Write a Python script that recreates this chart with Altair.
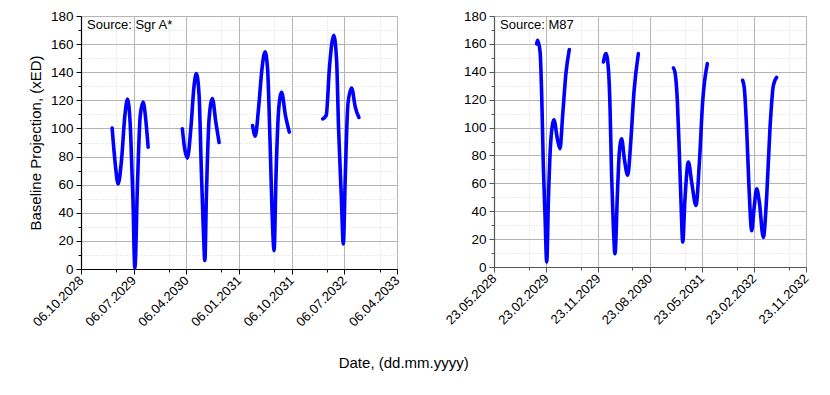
import altair as alt
import pandas as pd

FONT = "Liberation Sans"

# ---------------- Sgr A* (left panel) ----------------
sgr_seg1_dates = ["2029-03-17", "2029-04-03", "2029-04-17", "2029-05-05", "2029-05-22", "2029-06-05",
                  "2029-06-21", "2029-07-03", "2029-07-13", "2029-07-27", "2029-08-10", "2029-08-25",
                  "2029-09-09", "2029-09-20"]
sgr_seg1_vals = [100.2, 73.6, 60.5, 78, 109, 121, 97, 50, 0.5, 62, 109, 118.7, 104.5, 86.7]

sgr_seg2_dates = ["2030-03-17", "2030-03-29", "2030-04-12", "2030-04-30", "2030-05-17", "2030-05-29",
                  "2030-06-12", "2030-06-24", "2030-07-04", "2030-07-12", "2030-07-20", "2030-08-03",
                  "2030-08-20", "2030-09-07", "2030-09-24"]
sgr_seg2_vals = [99.7, 85.5, 78.9, 99.7, 130.6, 139, 123.5, 68.9, 28.5, 6, 52.3, 106.8, 121.3, 104.5, 90]

sgr_seg3_dates = ["2031-03-17", "2031-03-31", "2031-04-17", "2031-05-05", "2031-05-21", "2031-06-03",
                  "2031-06-16", "2031-06-26", "2031-07-07", "2031-07-17", "2031-07-31", "2031-08-15",
                  "2031-09-04", "2031-09-24"]
sgr_seg3_vals = [102.1, 94.5, 114, 142.5, 154.5, 142.5, 90.2, 42.7, 13.1, 66.5, 114, 125.7, 109.3, 97.4]

sgr_seg4_dates = ["2032-03-16", "2032-04-03", "2032-04-20", "2032-05-12", "2032-05-27", "2032-06-06",
                  "2032-06-20", "2032-07-01", "2032-07-11", "2032-07-25", "2032-08-13", "2032-09-01",
                  "2032-09-20"]
sgr_seg4_vals = [106.8, 109.3, 143.7, 166.2, 148.4, 100.9, 53.4, 17.8, 65.3, 117.5, 128.8, 115.2, 107.8]

# ---------------- M87 (right panel) ----------------
m87_seg1_dates = ["2029-01-03", "2029-01-08", "2029-01-21", "2029-01-30", "2029-02-07", "2029-02-16",
                  "2029-02-25", "2029-03-06", "2029-03-18", "2029-04-04", "2029-04-22", "2029-05-06",
                  "2029-05-20", "2029-06-07", "2029-06-24"]
m87_seg1_vals = [160, 162.6, 154.2, 120.7, 72.9, 37.1, 3.6, 49, 89.6, 105.5, 92, 84.8, 108.8, 139.8, 156]

m87_seg2_dates = ["2029-12-21", "2030-01-03", "2030-01-16", "2030-01-25", "2030-02-02", "2030-02-11",
                  "2030-02-20", "2030-03-05", "2030-03-15", "2030-03-27", "2030-04-10", "2030-04-28",
                  "2030-05-14", "2030-05-31", "2030-06-23"]
m87_seg2_vals = [147, 153, 142.2, 113.5, 65.8, 29.9, 9.5, 53.8, 82.5, 92, 77.7, 65.8, 89.6, 125.5, 153]

m87_seg3_dates = ["2030-12-25", "2031-01-02", "2031-01-15", "2031-01-25", "2031-02-03", "2031-02-12",
                  "2031-02-24", "2031-03-14", "2031-03-31", "2031-04-23", "2031-05-11", "2031-05-28",
                  "2031-06-22"]
m87_seg3_vals = [142.7, 139.8, 118.3, 82.5, 46.6, 17.9, 49, 75.3, 61, 44.2, 75.3, 118.3, 145.8]

m87_seg4_dates = ["2031-12-25", "2032-01-03", "2032-01-15", "2032-01-27", "2032-02-11", "2032-02-23",
                  "2032-03-08", "2032-03-22", "2032-04-12", "2032-04-30", "2032-05-17", "2032-06-04",
                  "2032-06-21"]
m87_seg4_vals = [133.9, 127.9, 99.2, 58.6, 26, 41.8, 56.1, 46.6, 21.2, 51.4, 99.2, 130.3, 136]

# ---------------- axis ticks ----------------
sgr_major_ticks = ["2028-10-06", "2029-07-06", "2030-04-06", "2031-01-06", "2031-10-06", "2032-07-06", "2033-04-06"]
sgr_minor_ticks = ["2029-04-06", "2030-01-06", "2030-10-06", "2031-07-06", "2032-04-06", "2033-01-06"]
m87_major_ticks = ["2028-05-23", "2029-02-23", "2029-11-23", "2030-08-23", "2031-05-23", "2032-02-23", "2032-11-23"]
m87_minor_ticks = ["2028-11-23", "2029-08-23", "2030-05-23", "2031-02-23", "2031-11-23", "2032-08-23"]
y_ticks = list(range(0, 181, 10))


def build_df(segs):
    rows = []
    for i, (d, v) in enumerate(segs):
        for dd, vv in zip(d, v):
            rows.append({"date": pd.Timestamp(dd), "value": vv, "seg": i})
    return pd.DataFrame(rows)


def dt(s):
    t = pd.Timestamp(s)
    return alt.DateTime(year=t.year, month=t.month, date=t.day)


def panel(df, majors, minors, source, y_title, axis_color, w, h):
    m0 = pd.Timestamp(majors[0])
    base = m0.year * 12 + (m0.month - 1)
    minor_test = f"(year(datum.value)*12+month(datum.value)-{base}) % 9 != 0"
    all_ticks = sorted(majors + minors)
    xaxis = alt.Axis(
        values=[dt(s) for s in all_ticks],
        labelExpr=f"({minor_test}) ? '' : timeFormat(datum.value, '%d.%m.%Y')",
        labelAngle=315, labelAlign="right", labelBaseline="middle",
        labelFont=FONT, labelFontSize=13, labelColor="#000", labelPadding=4,
        labelOverlap=False, labelBound=False, labelFlush=False,
        title=None,
        domainColor=axis_color, domainWidth=1.2,
        tickColor=axis_color,
        tickSize={"condition": {"test": minor_test, "value": 3}, "value": 5},
        grid=True,
        gridColor={"condition": {"test": minor_test, "value": "#d9d9d9"}, "value": "#b5b5b5"},
        gridDash={"condition": {"test": minor_test, "value": [1, 2]}, "value": []},
    )
    ytest = "datum.value % 20 != 0"
    yaxis = alt.Axis(
        values=y_ticks,
        labelExpr="datum.value % 20 == 0 ? datum.label : ''",
        labelFont=FONT, labelFontSize=13.5, labelColor="#000", labelPadding=3,
        labelOverlap=False, labelFlush=False,
        title=y_title, titleFont=FONT, titleFontSize=15, titleFontWeight="normal",
        titleColor="#000", titlePadding=7,
        domainColor=axis_color, domainWidth=1.2,
        tickColor=axis_color,
        tickSize={"condition": {"test": ytest, "value": 3}, "value": 5},
        grid=True,
        gridColor={"condition": {"test": ytest, "value": "#d9d9d9"}, "value": "#b5b5b5"},
        gridDash={"condition": {"test": ytest, "value": [1, 2]}, "value": []},
    )
    line = alt.Chart(df).mark_line(
        color="#0000ff", strokeWidth=3.6, interpolate="monotone", strokeCap="round", strokeJoin="round"
    ).encode(
        x=alt.X("date:T", scale=alt.Scale(domain=[dt(majors[0]), dt(majors[-1])]), axis=xaxis),
        y=alt.Y("value:Q", scale=alt.Scale(domain=[0, 180], nice=False), axis=yaxis),
        detail="seg:N",
    )
    label = alt.Chart(pd.DataFrame({"t": [source]})).mark_text(
        align="left", baseline="middle", font=FONT, fontSize=13, color="#000"
    ).encode(x=alt.value(6), y=alt.value(9), text="t:N")
    return alt.layer(line, label).properties(width=w, height=h)


sgr_df = build_df([(sgr_seg1_dates, sgr_seg1_vals), (sgr_seg2_dates, sgr_seg2_vals),
                   (sgr_seg3_dates, sgr_seg3_vals), (sgr_seg4_dates, sgr_seg4_vals)])
m87_df = build_df([(m87_seg1_dates, m87_seg1_vals), (m87_seg2_dates, m87_seg2_vals),
                   (m87_seg3_dates, m87_seg3_vals), (m87_seg4_dates, m87_seg4_vals)])

left = panel(sgr_df, sgr_major_ticks, sgr_minor_ticks, "Source: Sgr A*", "Baseline Projection, (xED)", "#000", 316, 253)
right = panel(m87_df, m87_major_ticks, m87_minor_ticks, "Source: M87", None, "#555", 312, 251)

chart = alt.hconcat(left, right, spacing=40).properties(
    title=alt.TitleParams(text="Date, (dd.mm.yyyy)", orient="bottom", anchor="middle",
                          font=FONT, fontSize=15, fontWeight="normal", color="#000", offset=27, dx=-16),
    padding={"left": 19, "top": 0, "right": 5, "bottom": 5},
).configure_view(stroke="#9a9a9a", strokeWidth=1).configure(background="white")

chart.save("out.html", embed_options={"renderer": "svg", "actions": False})
